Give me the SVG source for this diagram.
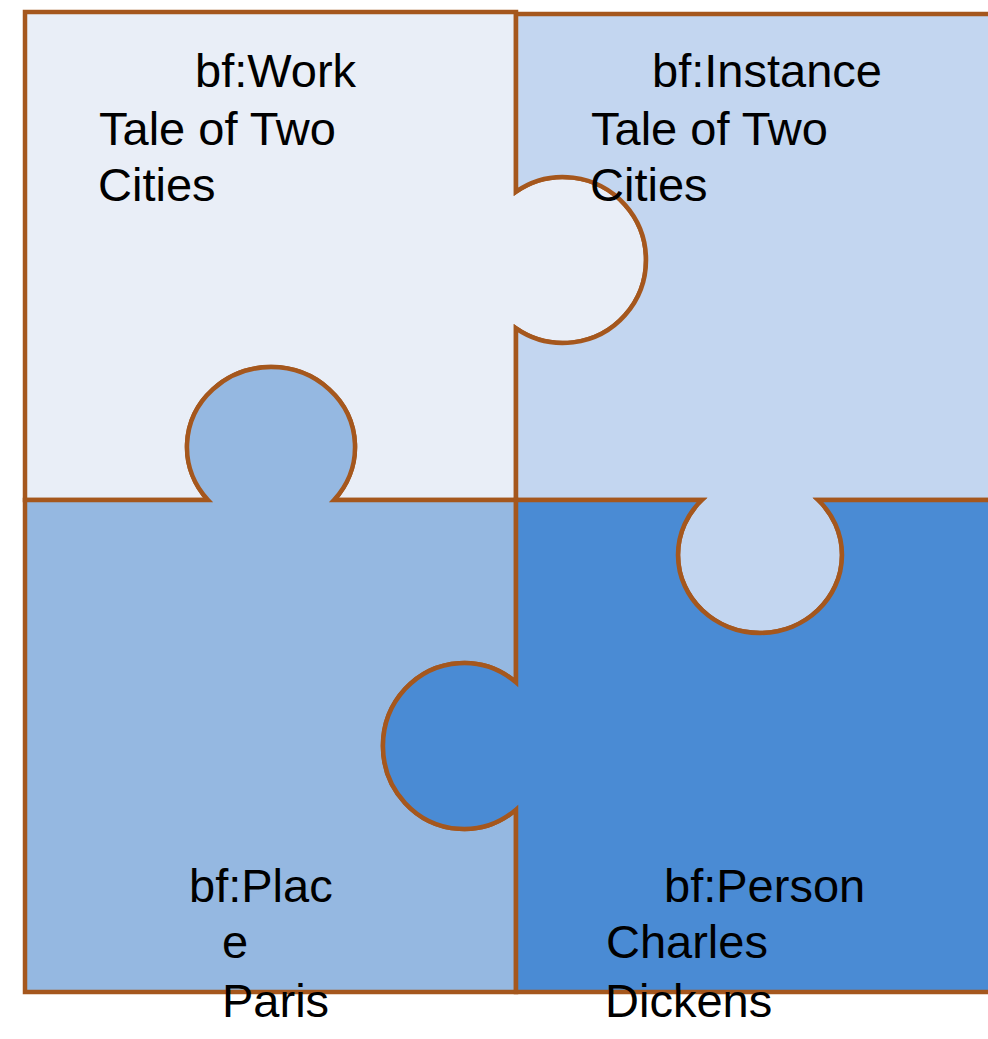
<svg xmlns="http://www.w3.org/2000/svg" width="988" height="1039" viewBox="0 0 988 1039">
  <style>
    .piece { stroke: #a5571d; stroke-width: 4.5; stroke-linejoin: miter; }
    .tl { fill: #e9eef7; }
    .tr { fill: #c3d6f0; }
    .bl { fill: #95b8e1; }
    .br { fill: #4a8bd4; }
    .label { font-family: "Liberation Sans", Arial, sans-serif; font-size: 47px; fill: #000000; }
  </style>
  <rect x="0" y="0" width="988" height="1039" fill="#ffffff"/>
  <g id="connectors"></g>
  <g id="node-work">
    <path class="piece tl" d="M25,12 H516 V191.6 A83,83 0 1 1 516,328.4 V500 H334 A84,80 0 1 0 208,500 H25 Z"/>
  </g>
  <g id="node-instance">
    <path class="piece tr" d="M516,14 H1000 V500 H818.2 A82,78 0 1 1 701.8,500 H516 V328.4 A83,83 0 1 0 516,191.6 Z"/>
  </g>
  <g id="node-place">
    <path class="piece bl" d="M25,500 H208 A84,80 0 1 1 334,500 H516 V682.4 A81,83 0 1 0 516,809.6 V992 H25 Z"/>
  </g>
  <g id="node-person">
    <path class="piece br" d="M516,500 H701.8 A82,78 0 1 0 818.2,500 H1000 V992 H516 V809.6 A81,83 0 1 1 516,682.4 Z"/>
  </g>
  <g id="labels">
    <g id="label-work">
      <text class="label" x="195" y="87">bf:Work</text>
      <text class="label" x="99" y="145">Tale of Two</text>
      <text class="label" x="98" y="201">Cities</text>
    </g>
    <g id="label-instance">
      <text class="label" x="652" y="87">bf:Instance</text>
      <text class="label" x="591" y="145">Tale of Two</text>
      <text class="label" x="590" y="201">Cities</text>
    </g>
    <g id="label-place">
      <text class="label" x="189" y="902">bf:Plac</text>
      <text class="label" x="222" y="958">e</text>
      <text class="label" x="222" y="1017">Paris</text>
    </g>
    <g id="label-person">
      <text class="label" x="664" y="902">bf:Person</text>
      <text class="label" x="606" y="958">Charles</text>
      <text class="label" x="605" y="1017">Dickens</text>
    </g>
  </g>
</svg>
